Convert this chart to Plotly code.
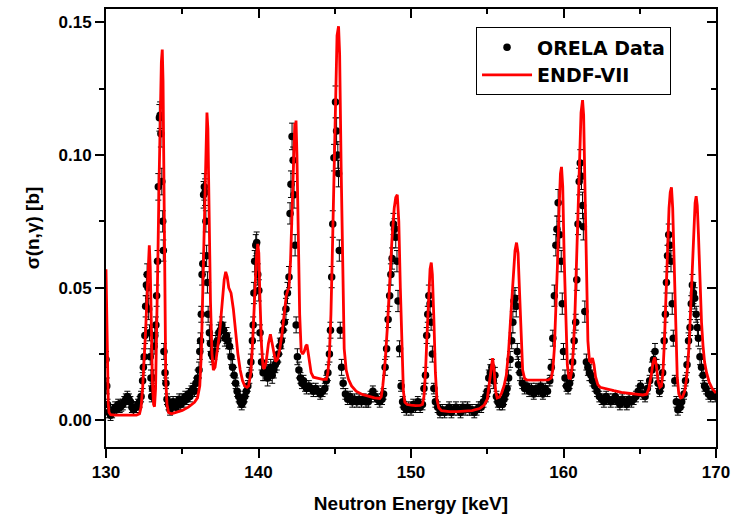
import plotly.graph_objects as go

# ---------------- ENDF-VII evaluated curve ----------------
endf_x = [130.0, 130.05, 130.1, 130.15, 130.2, 130.3, 130.6, 131.0, 131.5, 132.0, 132.2, 132.3, 132.4, 132.5, 132.6,
          132.7, 132.78, 132.84, 132.9, 132.96, 133.04, 133.12, 133.18, 133.25, 133.32, 133.4, 133.48, 133.56, 133.63,
          133.69, 133.74, 133.8, 133.86, 133.92, 134.0, 134.1, 134.3, 134.6, 135.0, 135.4, 135.8, 136.0, 136.15, 136.25,
          136.35, 136.45, 136.55, 136.62, 136.68, 136.75, 136.85, 136.95, 137.04, 137.15, 137.3, 137.45, 137.6, 137.75,
          137.85, 137.95, 138.05, 138.2, 138.35, 138.5, 138.65, 138.8, 138.95, 139.1, 139.25, 139.35, 139.5, 139.62,
          139.75, 139.87, 139.95, 140.02, 140.1, 140.2, 140.3, 140.38, 140.5, 140.65, 140.78, 140.9, 141.02, 141.12,
          141.25, 141.4, 141.55, 141.7, 141.82, 141.92, 142.0, 142.1, 142.2, 142.3, 142.38, 142.42, 142.46, 142.52,
          142.6, 142.7, 142.8, 142.9, 143.0, 143.1, 143.18, 143.3, 143.45, 143.6, 143.9, 144.2, 144.45, 144.55, 144.65,
          144.75, 144.85, 144.95, 145.05, 145.15, 145.25, 145.32, 145.42, 145.52, 145.62, 145.75, 145.9, 146.1, 146.4,
          146.8, 147.2, 147.6, 147.95, 148.05, 148.15, 148.3, 148.45, 148.6, 148.75, 148.9, 149.0, 149.1, 149.2, 149.3,
          149.4, 149.5, 149.6, 149.75, 150.0, 150.3, 150.6, 150.75, 150.85, 150.95, 151.05, 151.15, 151.25, 151.33,
          151.4, 151.5, 151.6, 151.7, 151.82, 152.0, 152.5, 153.0, 153.5, 154.0, 154.5, 154.8, 155.0, 155.15, 155.25,
          155.35, 155.45, 155.55, 155.65, 155.8, 155.95, 156.1, 156.25, 156.4, 156.55, 156.7, 156.82, 156.92, 157.02,
          157.12, 157.22, 157.32, 157.45, 157.6, 158.0, 158.5, 159.0, 159.2, 159.3, 159.4, 159.5, 159.6, 159.7, 159.8,
          159.87, 159.95, 160.05, 160.15, 160.25, 160.35, 160.45, 160.55, 160.65, 160.75, 160.85, 160.95, 161.05,
          161.15, 161.25, 161.32, 161.4, 161.5, 161.6, 161.7, 161.8, 161.9, 162.0, 162.1, 162.25, 162.4, 162.8, 163.3,
          163.8, 164.3, 164.8, 165.2, 165.45, 165.6, 165.75, 165.88, 165.98, 166.08, 166.2, 166.32, 166.42, 166.52,
          166.62, 166.72, 166.82, 166.92, 167.0, 167.08, 167.16, 167.26, 167.36, 167.46, 167.56, 167.68, 167.8, 167.95,
          168.05, 168.15, 168.25, 168.35, 168.45, 168.55, 168.63, 168.7, 168.77, 168.85, 168.95, 169.05, 169.15,
          169.25, 169.38, 169.55, 169.75, 170.0]
endf_y = [0.057, 0.035, 0.015, 0.006, 0.003, 0.0022, 0.002, 0.002, 0.002, 0.002, 0.0025, 0.005, 0.012, 0.022, 0.034,
          0.048, 0.062, 0.066, 0.058, 0.035, 0.015, 0.006, 0.0052, 0.012, 0.030, 0.060, 0.090, 0.120, 0.135,
          0.1397, 0.128, 0.090, 0.040, 0.015, 0.006, 0.003, 0.0025, 0.003, 0.0038, 0.005, 0.0068, 0.0085, 0.013, 0.025,
          0.048, 0.075, 0.103, 0.116, 0.110, 0.080, 0.045, 0.025, 0.019, 0.020, 0.026, 0.033, 0.043, 0.053,
          0.056, 0.054, 0.050, 0.048, 0.042, 0.033, 0.025, 0.019, 0.015, 0.013, 0.0125, 0.013, 0.018, 0.030,
          0.048, 0.062, 0.0665, 0.063, 0.045, 0.028, 0.020, 0.0195, 0.022, 0.029, 0.0325, 0.029, 0.024, 0.0222,
          0.023, 0.027, 0.033, 0.040, 0.047, 0.049, 0.050, 0.060, 0.080, 0.100, 0.112, 0.106, 0.113, 0.100,
          0.070, 0.040, 0.026, 0.025, 0.026, 0.028, 0.0285, 0.024, 0.018, 0.0163, 0.0158, 0.0155, 0.0155, 0.018, 0.025,
          0.040, 0.065, 0.095, 0.125, 0.145, 0.1485, 0.138, 0.095, 0.050, 0.027, 0.019, 0.0155, 0.013, 0.011,
          0.0098, 0.009, 0.0085, 0.0083, 0.009, 0.013, 0.022, 0.035, 0.052, 0.068, 0.080, 0.084, 0.085, 0.075, 0.050,
          0.025, 0.011, 0.0068, 0.006, 0.0058, 0.0056, 0.0057, 0.006, 0.009, 0.018, 0.032, 0.047, 0.057, 0.0595,
          0.055, 0.038, 0.018, 0.008, 0.0048, 0.0037, 0.0033, 0.0033, 0.0034, 0.0037, 0.0045, 0.0058, 0.008, 0.014, 0.019,
          0.0235, 0.019, 0.011, 0.0085, 0.0088, 0.0105, 0.013, 0.017, 0.026, 0.040, 0.055, 0.064, 0.067, 0.063,
          0.048, 0.030, 0.019, 0.0158, 0.0153, 0.0152, 0.0152, 0.0153, 0.016, 0.019, 0.027, 0.040, 0.058, 0.078, 0.093,
          0.0955, 0.088, 0.060, 0.035, 0.021, 0.016, 0.0158, 0.019, 0.027, 0.040, 0.060, 0.082, 0.102,
          0.116, 0.1207, 0.115, 0.090, 0.055, 0.030, 0.0225, 0.022, 0.0235, 0.021, 0.0165, 0.0135, 0.0125, 0.0118, 0.0112,
          0.0106, 0.0102, 0.0098, 0.0096, 0.0099, 0.012, 0.017, 0.022, 0.0237, 0.021, 0.015, 0.0125, 0.013, 0.018,
          0.030, 0.048, 0.066, 0.080, 0.086, 0.0878, 0.080, 0.055, 0.030, 0.016, 0.010, 0.0085, 0.0088, 0.011,
          0.015, 0.021, 0.030, 0.043, 0.058, 0.073, 0.082, 0.0845, 0.081, 0.070, 0.052, 0.037, 0.028,
          0.022, 0.018, 0.0145, 0.012, 0.0103]

# ---------------- ORELA data (by energy segment) ----------------
seg_a_x = [130.0, 130.05, 130.1, 130.2, 130.3, 130.4, 130.5, 130.6, 130.7, 130.8, 130.9, 131.0, 131.1, 131.2, 131.3,
           131.4, 131.5, 131.6, 131.7, 131.8, 131.9, 132.0, 132.1, 132.2]
seg_a_y = [0.023, 0.013, 0.006, 0.003, 0.002, 0.003, 0.004, 0.005, 0.004, 0.006, 0.005, 0.0055, 0.006, 0.007, 0.008,
           0.009, 0.008, 0.007, 0.005, 0.004, 0.005, 0.005, 0.006, 0.007]
seg_a_e = [0.003, 0.003, 0.002, 0.002, 0.002, 0.002, 0.002, 0.002, 0.002, 0.002, 0.002, 0.002, 0.002, 0.002, 0.002,
           0.002, 0.002, 0.002, 0.002, 0.002, 0.002, 0.002, 0.002, 0.002]

seg_b_x = [132.3, 132.4, 132.45, 132.5, 132.55, 132.6, 132.65, 132.7, 132.75, 132.8, 132.85, 132.9, 132.95, 133.0,
           133.05, 133.1, 133.15, 133.2, 133.27, 133.32, 133.38, 133.43, 133.5, 133.55, 133.6, 133.66, 133.72, 133.76,
           133.8, 133.87, 133.93, 134.0]
seg_b_y = [0.009, 0.015, 0.020, 0.024, 0.032, 0.043, 0.051, 0.055, 0.050, 0.042, 0.033, 0.024, 0.016, 0.009,
           0.012, 0.016, 0.028, 0.032, 0.036, 0.047, 0.060, 0.088, 0.114, 0.115, 0.108, 0.090, 0.075, 0.064,
           0.026, 0.018, 0.014, 0.008]
seg_b_e = [0.002, 0.003, 0.003, 0.003, 0.003, 0.004, 0.004, 0.004, 0.004, 0.004, 0.003, 0.003, 0.003, 0.002,
           0.002, 0.003, 0.003, 0.003, 0.003, 0.004, 0.004, 0.005, 0.005, 0.005, 0.005, 0.005, 0.004, 0.004,
           0.003, 0.003, 0.002, 0.002]

seg_c_x = [134.1, 134.2, 134.3, 134.4, 134.5, 134.6, 134.7, 134.8, 134.9, 135.0, 135.1, 135.2, 135.3, 135.4, 135.5,
           135.6, 135.7, 135.8, 135.9, 136.0, 136.1, 136.15]
seg_c_y = [0.006, 0.004, 0.005, 0.007, 0.006, 0.005, 0.007, 0.008, 0.006, 0.008, 0.007, 0.009, 0.008, 0.010, 0.009,
           0.011, 0.012, 0.011, 0.014, 0.016, 0.019, 0.026]
seg_c_e = [0.002, 0.002, 0.002, 0.002, 0.002, 0.002, 0.002, 0.002, 0.002, 0.002, 0.002, 0.002, 0.002, 0.002, 0.002,
           0.002, 0.002, 0.002, 0.002, 0.003, 0.003, 0.003]

seg_d_x = [136.2, 136.25, 136.3, 136.35, 136.4, 136.45, 136.5, 136.55, 136.6, 136.65, 136.7, 136.78, 136.85, 136.92]
seg_d_y = [0.030, 0.040, 0.055, 0.059, 0.085, 0.088, 0.086, 0.075, 0.062, 0.052, 0.040, 0.033, 0.029, 0.025]
seg_d_e = [0.003, 0.003, 0.004, 0.004, 0.005, 0.005, 0.005, 0.004, 0.004, 0.004, 0.003, 0.003, 0.003, 0.003]

seg_e_x = [137.0, 137.1, 137.2, 137.3, 137.4, 137.5, 137.6, 137.7, 137.8, 137.9, 138.0, 138.1, 138.2, 138.3, 138.4,
           138.5, 138.6, 138.7, 138.8, 138.9, 139.0, 139.1, 139.2, 139.3, 139.4, 139.5]
seg_e_y = [0.024, 0.026, 0.029, 0.030, 0.033, 0.034, 0.036, 0.034, 0.031, 0.032, 0.030, 0.028, 0.024, 0.020, 0.017,
           0.014, 0.011, 0.009, 0.007, 0.006, 0.007, 0.009, 0.011, 0.013, 0.017, 0.022]
seg_e_e = [0.003, 0.003, 0.003, 0.003, 0.003, 0.003, 0.003, 0.003, 0.003, 0.003, 0.003, 0.003, 0.003, 0.003, 0.003,
           0.002, 0.002, 0.002, 0.002, 0.002, 0.002, 0.002, 0.002, 0.002, 0.003, 0.003]

seg_f_x = [139.6, 139.65, 139.7, 139.75, 139.82, 139.88, 139.95, 140.02, 140.1, 140.2, 140.3]
seg_f_y = [0.030, 0.036, 0.048, 0.060, 0.066, 0.067, 0.055, 0.049, 0.033, 0.022, 0.018]
seg_f_e = [0.003, 0.003, 0.004, 0.004, 0.004, 0.004, 0.004, 0.004, 0.003, 0.003, 0.003]

seg_g_x = [140.4, 140.5, 140.6, 140.7, 140.8, 140.9, 141.0, 141.1, 141.2, 141.3, 141.4, 141.5, 141.6, 141.7, 141.8,
           141.9, 142.0, 142.07, 142.13, 142.2, 142.27, 142.33, 142.4, 142.47, 142.55]
seg_g_y = [0.018, 0.019, 0.016, 0.018, 0.020, 0.017, 0.019, 0.021, 0.022, 0.025, 0.028, 0.030, 0.034, 0.037, 0.042,
           0.048, 0.054, 0.078, 0.089, 0.107, 0.098, 0.085, 0.066, 0.036, 0.024]
seg_g_e = [0.003, 0.003, 0.003, 0.003, 0.003, 0.003, 0.003, 0.003, 0.003, 0.003, 0.003, 0.003, 0.003, 0.003, 0.004,
           0.004, 0.004, 0.004, 0.005, 0.005, 0.005, 0.005, 0.004, 0.003, 0.003]

seg_h_x = [142.65, 142.75, 142.85, 142.95, 143.05, 143.15, 143.3, 143.45, 143.6, 143.75, 143.9, 144.05, 144.2, 144.35,
           144.45, 144.55]
seg_h_y = [0.019, 0.016, 0.014, 0.015, 0.013, 0.012, 0.013, 0.012, 0.011, 0.012, 0.011, 0.010, 0.011, 0.012,
           0.015, 0.018]
seg_h_e = [0.003, 0.002, 0.002, 0.002, 0.002, 0.002, 0.002, 0.002, 0.002, 0.002, 0.002, 0.002, 0.002, 0.002,
           0.002, 0.003]

seg_i_x = [144.65, 144.72, 144.8, 144.87, 144.95, 145.05, 145.12, 145.2, 145.25, 145.3, 145.36, 145.45, 145.55]
seg_i_y = [0.025, 0.034, 0.054, 0.074, 0.099, 0.120, 0.109, 0.100, 0.093, 0.064, 0.034, 0.020, 0.014]
seg_i_e = [0.003, 0.003, 0.004, 0.005, 0.005, 0.006, 0.005, 0.005, 0.005, 0.004, 0.003, 0.003, 0.002]

seg_j_x = [145.7, 145.85, 146.0, 146.15, 146.3, 146.45, 146.6, 146.75, 146.9, 147.05, 147.2, 147.35, 147.5, 147.65,
           147.8, 147.95, 148.1, 148.2]
seg_j_y = [0.010, 0.008, 0.009, 0.007, 0.008, 0.007, 0.008, 0.007, 0.008, 0.007, 0.007, 0.009, 0.011, 0.009,
           0.008, 0.007, 0.008, 0.010]
seg_j_e = [0.002, 0.002, 0.002, 0.002, 0.002, 0.002, 0.002, 0.002, 0.002, 0.002, 0.002, 0.002, 0.002, 0.002,
           0.002, 0.002, 0.002, 0.002]

seg_k_x = [148.3, 148.4, 148.5, 148.6, 148.68, 148.76, 148.85, 148.92, 149.0, 149.08, 149.15, 149.25, 149.35, 149.45,
           149.55]
seg_k_y = [0.020, 0.027, 0.038, 0.047, 0.055, 0.061, 0.074, 0.072, 0.069, 0.060, 0.045, 0.027, 0.013, 0.007, 0.005]
seg_k_e = [0.003, 0.003, 0.003, 0.004, 0.004, 0.004, 0.004, 0.004, 0.004, 0.004, 0.004, 0.003, 0.002, 0.002, 0.002]

seg_l_x = [149.7, 149.85, 150.0, 150.15, 150.3, 150.45, 150.6, 150.75]
seg_l_y = [0.004, 0.005, 0.004, 0.006, 0.005, 0.007, 0.005, 0.006]
seg_l_e = [0.002, 0.002, 0.002, 0.002, 0.002, 0.002, 0.002, 0.002]

seg_m_x = [150.85, 150.95, 151.03, 151.1, 151.17, 151.25, 151.32, 151.4, 151.5, 151.6]
seg_m_y = [0.012, 0.017, 0.032, 0.040, 0.047, 0.044, 0.037, 0.025, 0.012, 0.007]
seg_m_e = [0.002, 0.003, 0.003, 0.003, 0.004, 0.004, 0.003, 0.003, 0.002, 0.002]

seg_n_x = [151.75, 151.9, 152.05, 152.2, 152.35, 152.5, 152.65, 152.8, 152.95, 153.1, 153.25, 153.4, 153.55, 153.7,
           153.85, 154.0, 154.15, 154.3, 154.45, 154.6, 154.75, 154.9]
seg_n_y = [0.005, 0.003, 0.004, 0.003, 0.004, 0.005, 0.003, 0.004, 0.005, 0.004, 0.003, 0.005, 0.004, 0.005,
           0.004, 0.004, 0.003, 0.004, 0.005, 0.005, 0.007, 0.009]
seg_n_e = [0.002, 0.002, 0.002, 0.002, 0.002, 0.002, 0.002, 0.002, 0.002, 0.002, 0.002, 0.002, 0.002, 0.002,
           0.002, 0.002, 0.002, 0.002, 0.002, 0.002, 0.002, 0.002]

seg_o_x = [155.0, 155.1, 155.2, 155.3, 155.4, 155.5, 155.6, 155.7, 155.8, 155.9, 156.0, 156.1, 156.2, 156.3, 156.4,
           156.5, 156.6, 156.68, 156.75, 156.82, 156.9, 156.97, 157.05, 157.15]
seg_o_y = [0.011, 0.016, 0.018, 0.020, 0.015, 0.017, 0.009, 0.007, 0.006, 0.007, 0.006, 0.008, 0.010, 0.012, 0.016,
           0.023, 0.030, 0.037, 0.045, 0.046, 0.043, 0.026, 0.021, 0.018]
seg_o_e = [0.002, 0.003, 0.003, 0.003, 0.003, 0.003, 0.002, 0.002, 0.002, 0.002, 0.002, 0.002, 0.002, 0.002, 0.003,
           0.003, 0.003, 0.004, 0.004, 0.004, 0.004, 0.003, 0.003, 0.003]

seg_p_x = [157.3, 157.45, 157.6, 157.75, 157.9, 158.05, 158.2, 158.35, 158.5, 158.65, 158.8, 158.95, 159.1]
seg_p_y = [0.014, 0.012, 0.013, 0.011, 0.012, 0.010, 0.012, 0.011, 0.013, 0.010, 0.012, 0.011, 0.015]
seg_p_e = [0.002, 0.002, 0.002, 0.002, 0.002, 0.002, 0.002, 0.002, 0.002, 0.002, 0.002, 0.002, 0.002]

seg_q_x = [159.2, 159.3, 159.4, 159.5, 159.57, 159.65, 159.75, 159.85, 159.92, 160.0, 160.1, 160.2, 160.3, 160.4]
seg_q_y = [0.020, 0.031, 0.047, 0.066, 0.072, 0.082, 0.070, 0.060, 0.044, 0.026, 0.016, 0.013, 0.012, 0.014]
seg_q_e = [0.003, 0.003, 0.004, 0.004, 0.005, 0.005, 0.005, 0.004, 0.004, 0.003, 0.003, 0.002, 0.002, 0.002]

seg_r_x = [160.5, 160.6, 160.7, 160.8, 160.87, 160.95, 161.03, 161.1, 161.18, 161.25, 161.3, 161.4, 161.5, 161.6,
           161.7, 161.8]
seg_r_y = [0.017, 0.022, 0.030, 0.037, 0.053, 0.074, 0.090, 0.097, 0.092, 0.081, 0.073, 0.041, 0.022, 0.020,
           0.018, 0.017]
seg_r_e = [0.002, 0.003, 0.003, 0.003, 0.004, 0.004, 0.005, 0.005, 0.005, 0.005, 0.005, 0.004, 0.003, 0.003,
           0.003, 0.002]

seg_s_x = [161.9, 162.05, 162.2, 162.35, 162.5, 162.65, 162.8, 162.95, 163.1, 163.25, 163.4, 163.55, 163.7, 163.85,
           164.0, 164.15, 164.3, 164.45, 164.6, 164.75, 164.9, 165.05, 165.2, 165.35, 165.5]
seg_s_y = [0.015, 0.013, 0.011, 0.009, 0.008, 0.007, 0.009, 0.008, 0.007, 0.008, 0.009, 0.007, 0.006, 0.008,
           0.007, 0.006, 0.008, 0.007, 0.008, 0.009, 0.011, 0.013, 0.010, 0.009, 0.012]
seg_s_e = [0.002, 0.002, 0.002, 0.002, 0.002, 0.002, 0.002, 0.002, 0.002, 0.002, 0.002, 0.002, 0.002, 0.002,
           0.002, 0.002, 0.002, 0.002, 0.002, 0.002, 0.002, 0.002, 0.002, 0.002, 0.002]

seg_t_x = [165.65, 165.8, 165.9, 166.0, 166.1, 166.2, 166.3, 166.4, 166.5, 166.6, 166.68, 166.75, 166.82, 166.9,
           166.98, 167.05, 167.13, 167.2, 167.3, 167.4, 167.5, 167.65, 167.75]
seg_t_y = [0.015, 0.019, 0.023, 0.026, 0.020, 0.014, 0.011, 0.013, 0.018, 0.030, 0.040, 0.052, 0.062, 0.070,
           0.066, 0.060, 0.044, 0.031, 0.015, 0.007, 0.004, 0.005, 0.007]
seg_t_e = [0.002, 0.003, 0.003, 0.003, 0.003, 0.002, 0.002, 0.002, 0.003, 0.003, 0.003, 0.004, 0.004, 0.004,
           0.004, 0.004, 0.004, 0.003, 0.002, 0.002, 0.002, 0.002, 0.002]

seg_u_x = [167.9, 168.0, 168.1, 168.2, 168.3, 168.38, 168.45, 168.52, 168.6, 168.7, 168.78, 168.85, 168.95, 169.05,
           169.15, 169.25, 169.35, 169.5, 169.65, 169.8, 169.95]
seg_u_y = [0.010, 0.015, 0.021, 0.030, 0.035, 0.044, 0.051, 0.048, 0.046, 0.040, 0.035, 0.031, 0.024, 0.020,
           0.017, 0.013, 0.012, 0.010, 0.009, 0.010, 0.009]
seg_u_e = [0.002, 0.002, 0.003, 0.003, 0.003, 0.003, 0.004, 0.004, 0.004, 0.003, 0.003, 0.003, 0.003, 0.003,
           0.003, 0.002, 0.002, 0.002, 0.002, 0.002, 0.002]

data_x = (seg_a_x + seg_b_x + seg_c_x + seg_d_x + seg_e_x + seg_f_x + seg_g_x + seg_h_x + seg_i_x + seg_j_x + seg_k_x
          + seg_l_x + seg_m_x + seg_n_x + seg_o_x + seg_p_x + seg_q_x + seg_r_x + seg_s_x + seg_t_x + seg_u_x)
data_y = (seg_a_y + seg_b_y + seg_c_y + seg_d_y + seg_e_y + seg_f_y + seg_g_y + seg_h_y + seg_i_y + seg_j_y + seg_k_y
          + seg_l_y + seg_m_y + seg_n_y + seg_o_y + seg_p_y + seg_q_y + seg_r_y + seg_s_y + seg_t_y + seg_u_y)
data_e = (seg_a_e + seg_b_e + seg_c_e + seg_d_e + seg_e_e + seg_f_e + seg_g_e + seg_h_e + seg_i_e + seg_j_e + seg_k_e
          + seg_l_e + seg_m_e + seg_n_e + seg_o_e + seg_p_e + seg_q_e + seg_r_e + seg_s_e + seg_t_e + seg_u_e)

x_range = [130, 170]
y_range = [-0.01, 0.155]
x_title = "Neutron Energy [keV]"
y_title = "σ(n,γ) [b]"
legend_names = ["ORELA Data", "ENDF-VII"]

FONT = "Liberation Sans, Arial, sans-serif"
LEGEND_FONT = "DejaVu Sans, Liberation Sans, sans-serif"

fig = go.Figure()
fig.add_trace(go.Scatter(
    x=data_x, y=data_y, mode="markers", name=legend_names[0],
    marker=dict(color="black", size=7.5),
    error_y=dict(type="data", array=data_e, visible=True, color="black", thickness=1, width=3),
))
fig.add_trace(go.Scatter(
    x=endf_x, y=endf_y, mode="lines", name=legend_names[1],
    line=dict(color="#ff0000", width=2.8),
))
# invisible trace to carry the mirrored (inward-tick) top/right axes
fig.add_trace(go.Scatter(x=[x_range[0]], y=[0], xaxis="x2", yaxis="y2", mode="markers",
                         marker=dict(opacity=0), showlegend=False, hoverinfo="skip"))

tickfont = dict(family=FONT, size=17, color="black", weight="bold")
fig.update_layout(
    width=736, height=514,
    margin=dict(l=106, r=20, t=9, b=67, autoexpand=False),
    paper_bgcolor="white", plot_bgcolor="white",
    showlegend=True,
    legend=dict(x=0.6066, y=0.958, xanchor="left", yanchor="top",
                bgcolor="white", bordercolor="black", borderwidth=1,
                font=dict(family=LEGEND_FONT, size=19, color="black", weight="bold"),
                tracegroupgap=0, itemwidth=50),
    xaxis=dict(range=x_range, tick0=130, dtick=10, ticks="outside", ticklen=9, tickwidth=1.5, tickcolor="black",
               minor=dict(ticks="outside", ticklen=5, dtick=5, tickwidth=1.5, tickcolor="black"),
               showline=True, linewidth=2, linecolor="black", mirror=True, showgrid=False, zeroline=False,
               tickfont=tickfont, automargin=False,
               title=dict(text=x_title, font=dict(family=FONT, size=19, color="black", weight="bold"), standoff=16)),
    yaxis=dict(range=y_range, tick0=0, dtick=0.05, tickformat=".2f", ticks="outside", ticklen=9, tickwidth=1.5,
               tickcolor="black", automargin=False,
               minor=dict(ticks="outside", ticklen=5, dtick=0.025, tickwidth=1.5, tickcolor="black"),
               showline=True, linewidth=2, linecolor="black", mirror=True, showgrid=False, zeroline=False,
               tickfont=tickfont,
               title=dict(text=y_title, font=dict(family=FONT, size=19, color="black", weight="bold"), standoff=14)),
    xaxis2=dict(overlaying="x", side="top", anchor="y", range=x_range, tick0=130, dtick=10, ticks="inside",
                ticklen=9, tickwidth=1.5, tickcolor="black", showticklabels=False, automargin=False,
                minor=dict(ticks="inside", ticklen=5, dtick=5, tickwidth=1.5, tickcolor="black"),
                showline=False, showgrid=False, zeroline=False),
    yaxis2=dict(overlaying="y", side="right", anchor="x", range=y_range, tick0=0, dtick=0.05, ticks="inside",
                ticklen=9, tickwidth=1.5, tickcolor="black", showticklabels=False, automargin=False,
                minor=dict(ticks="inside", ticklen=5, dtick=0.025, tickwidth=1.5, tickcolor="black"),
                showline=False, showgrid=False, zeroline=False),
)

fig.write_html("out.html")
